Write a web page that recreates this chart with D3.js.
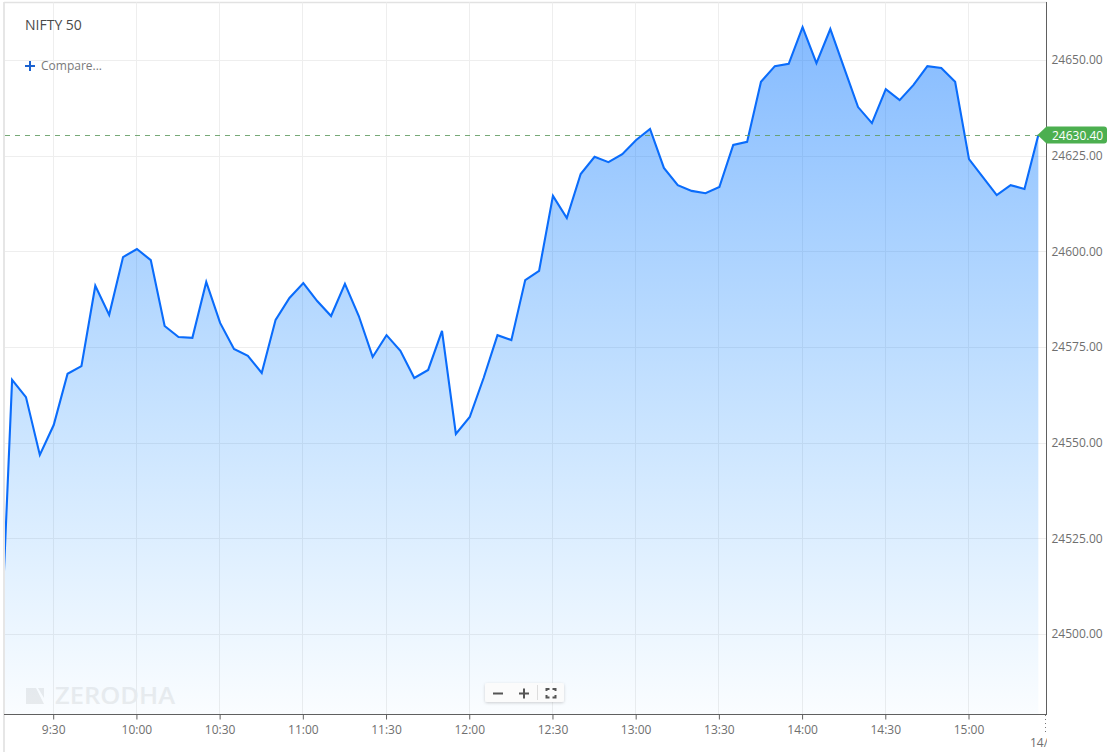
<!DOCTYPE html>
<html><head><meta charset="utf-8">
<script src="https://cdn.jsdelivr.net/npm/d3@7"></script>
<style>html,body{margin:0;padding:0;background:#fff;overflow:hidden}svg{display:block}text{font-family:"Open Sans",sans-serif}</style>
</head><body><svg id="c" width="1108" height="752"></svg>
<script>
const title = "NIFTY 50";
const compareLabel = "Compare...";
const watermark = "ZERODHA";
const startTime = "2025-01-01T09:15";
const prevClose = 24481;
const prices = [24566.4,24561.9,24546.8,24554.6,24568.0,24570,24591,24583.4,24598.5,24600.6,
 24597.7,24580.5,24577.6,24577.4,24592,24581.3,24574.5,24572.7,24568.2,24582.1,
 24587.8,24591.7,24587,24583.1,24591.5,24583.1,24572.4,24578.1,24574,24566.9,
 24569,24579.2,24552.3,24556.7,24566.9,24578.1,24576.8,24592.5,24594.9,24614.5,
 24608.7,24620.2,24624.7,24623.3,24625.4,24629.1,24632,24621.8,24617.3,24615.8,
 24615.2,24616.8,24627.8,24628.6,24644.3,24648.4,24649,24658.6,24649.2,24658.1,
 24647.9,24637.7,24633.5,24642.4,24639.5,24643.5,24648.4,24647.9,24644.3,24624.1,
 24619.4,24614.7,24617.3,24616.3,24630.4];
const yTicks = [24650,24625,24600,24575,24550,24525,24500];
const xTicks = ["9:30","10:00","10:30","11:00","11:30","12:00","12:30","13:00","13:30","14:00","14:30","15:00"];
const lastPrice = 24630.40;
const nextDayLabel = "14/";

const L=5,R=1046.5,T=2.5,B=714.5;
const svg=d3.select("#c");
const day="2025-01-01T";
const parse=s=>new Date(day+s.padStart(5,"0"));
const t0=new Date(startTime);
const at=i=>new Date(+t0+i*300000);
const x=d3.scaleTime().domain([parse("9:30"),parse("15:00")]).range([53.7,969]);
const y=d3.scaleLinear().domain([24500,24650]).range([634,60]);
const series=prices.map((v,i)=>({t:at(i),v}));
series.unshift({t:at(-1),v:prevClose});

const defs=svg.append("defs");
const g=defs.append("linearGradient").attr("id","fill")
 .attr("gradientUnits","userSpaceOnUse").attr("x1",0).attr("x2",0).attr("y1",27).attr("y2",714);
g.append("stop").attr("offset",0).attr("stop-color","#0070ff").attr("stop-opacity",.48);
g.append("stop").attr("offset",1).attr("stop-color","#0a8cff").attr("stop-opacity",.02);
defs.append("clipPath").attr("id","plot").append("rect").attr("x",L).attr("y",T).attr("width",R-L).attr("height",B-T);
const blur=defs.append("filter").attr("id","sh").attr("x","-20%").attr("y","-40%").attr("width","140%").attr("height","180%");
blur.append("feDropShadow").attr("dx",0).attr("dy",1).attr("stdDeviation",1.5).attr("flood-color","#000").attr("flood-opacity",.18);

// frame
svg.append("line").attr("x1",4).attr("x2",4).attr("y1",2).attr("y2",752).attr("stroke","#e6e6e6").attr("stroke-width",2);
svg.append("line").attr("x1",4).attr("x2",1047).attr("y1",2.5).attr("y2",2.5).attr("stroke","#e2e2e2").attr("stroke-width",1.5);

// watermark
const wm=svg.append("g");
wm.append("path").attr("d",d3.line()([[26,688],[36,688],[44,704],[26,704]])).attr("fill","#ededed");
wm.append("path").attr("d",d3.line()([[38,688],[44,688],[44,698]])).attr("fill","#ededed");
wm.append("text").text(watermark).attr("x",55).attr("y",704).attr("font-size",22.5).attr("font-weight",600)
 .attr("textLength",120).attr("lengthAdjust","spacingAndGlyphs").attr("fill","#eeeeee");

// grid
const gridC="#eeeeee";
svg.append("g").selectAll("line").data(yTicks).join("line")
 .attr("x1",L).attr("x2",R).attr("y1",d=>Math.round(y(d))+.5).attr("y2",d=>Math.round(y(d))+.5).attr("stroke",gridC);
svg.append("g").selectAll("line").data(xTicks).join("line")
 .attr("y1",T).attr("y2",B).attr("x1",d=>Math.round(x(parse(d)))-.5).attr("x2",d=>Math.round(x(parse(d)))-.5).attr("stroke",gridC);

// area + line
const plot=svg.append("g").attr("clip-path","url(#plot)");
plot.append("path").datum(series).attr("fill","url(#fill)")
 .attr("d",d3.area().x(d=>x(d.t)).y0(B).y1(d=>y(d.v)));
plot.append("path").datum(series).attr("fill","none").attr("stroke","#0a6cfb").attr("stroke-width",2.1).attr("stroke-linejoin","miter")
 .attr("d",d3.line().x(d=>x(d.t)).y(d=>y(d.v)));

// last price dashed
svg.append("line").attr("x1",L).attr("x2",1040).attr("y1",135.5).attr("y2",135.5).attr("stroke","#5f9a5f").attr("stroke-opacity",.85).attr("stroke-width",1).attr("stroke-dasharray","5,5");

// axes lines
svg.append("line").attr("x1",1046.5).attr("x2",1046.5).attr("y1",2).attr("y2",715).attr("stroke","#606060");
svg.append("line").attr("x1",4).attr("x2",1047).attr("y1",714.5).attr("y2",714.5).attr("stroke","#606060");

// axes via d3
const axR=svg.append("g").attr("transform","translate(1046.5,0)").call(
 d3.axisRight(y).tickValues(yTicks).tickSize(0).tickPadding(5).tickFormat(d3.format(".2f")));
axR.select(".domain").remove();
axR.selectAll("text").attr("font-size",12).attr("fill","#6f6f6f").attr("font-family",'"Open Sans",sans-serif');
const axB=svg.append("g").attr("transform","translate(-.5,714.5)").call(
 d3.axisBottom(x).tickValues(xTicks.map(parse)).tickSize(5).tickPadding(6).tickFormat((d,i)=>xTicks[i]));
axB.select(".domain").remove();
axB.selectAll("line").attr("stroke","#606060");
axB.selectAll("text").attr("font-size",12).attr("fill","#6f6f6f").attr("font-family",'"Open Sans",sans-serif');

// next-day marker
svg.append("line").attr("x1",1045.5).attr("x2",1045.5).attr("y1",715).attr("y2",735).attr("stroke","#777").attr("stroke-dasharray","1,3");
defs.append("clipPath").attr("id","nd").append("rect").attr("x",1020).attr("y",730).attr("width",27).attr("height",22);
svg.append("text").text(nextDayLabel+"09").attr("clip-path","url(#nd)").attr("x",1030).attr("y",746.5).attr("font-size",12).attr("fill","#6f6f6f");

// price tag
const tagY=y(lastPrice);
svg.append("path").attr("fill","#4caf50")
 .attr("d",`M1037.5,${tagY} L1046.5,${tagY-8.5} H1104 a3,3 0 0 1 3,3 V${tagY+5.5} a3,3 0 0 1 -3,3 H1046.5 Z`);
svg.append("text").text(lastPrice.toFixed(2)).attr("x",1052).attr("y",tagY+4.5).attr("font-size",12).attr("fill","#fff");

// title
svg.append("text").text(title).attr("x",25).attr("y",30).attr("font-size",14).attr("fill","#4a4a4a");
svg.append("path").attr("d","M25,66H35M30,61V71").attr("stroke","#1b62d0").attr("stroke-width",2).attr("fill","none");
svg.append("text").text(compareLabel).attr("x",41).attr("y",70).attr("font-size",12).attr("fill","#7a7a7a");

// zoom control
const zc=svg.append("g");
zc.append("rect").attr("x",485).attr("y",683).attr("width",79).attr("height",19).attr("rx",2).attr("fill","#fbfbfb").attr("filter","url(#sh)");
zc.append("path").attr("d","M493,693.5H503M519,693.5H529M524,688.5V698.5").attr("stroke","#555").attr("stroke-width",2).attr("fill","none");
zc.append("line").attr("x1",537.5).attr("x2",537.5).attr("y1",685).attr("y2",700).attr("stroke","#ddd");
zc.append("path").attr("d","M546.5,691V689H549.5M552.5,689H555.5V691M555.5,695V697.5H552.5M549.5,697.5H546.5V695").attr("stroke","#555").attr("stroke-width",2).attr("fill","none");
</script></body></html>
